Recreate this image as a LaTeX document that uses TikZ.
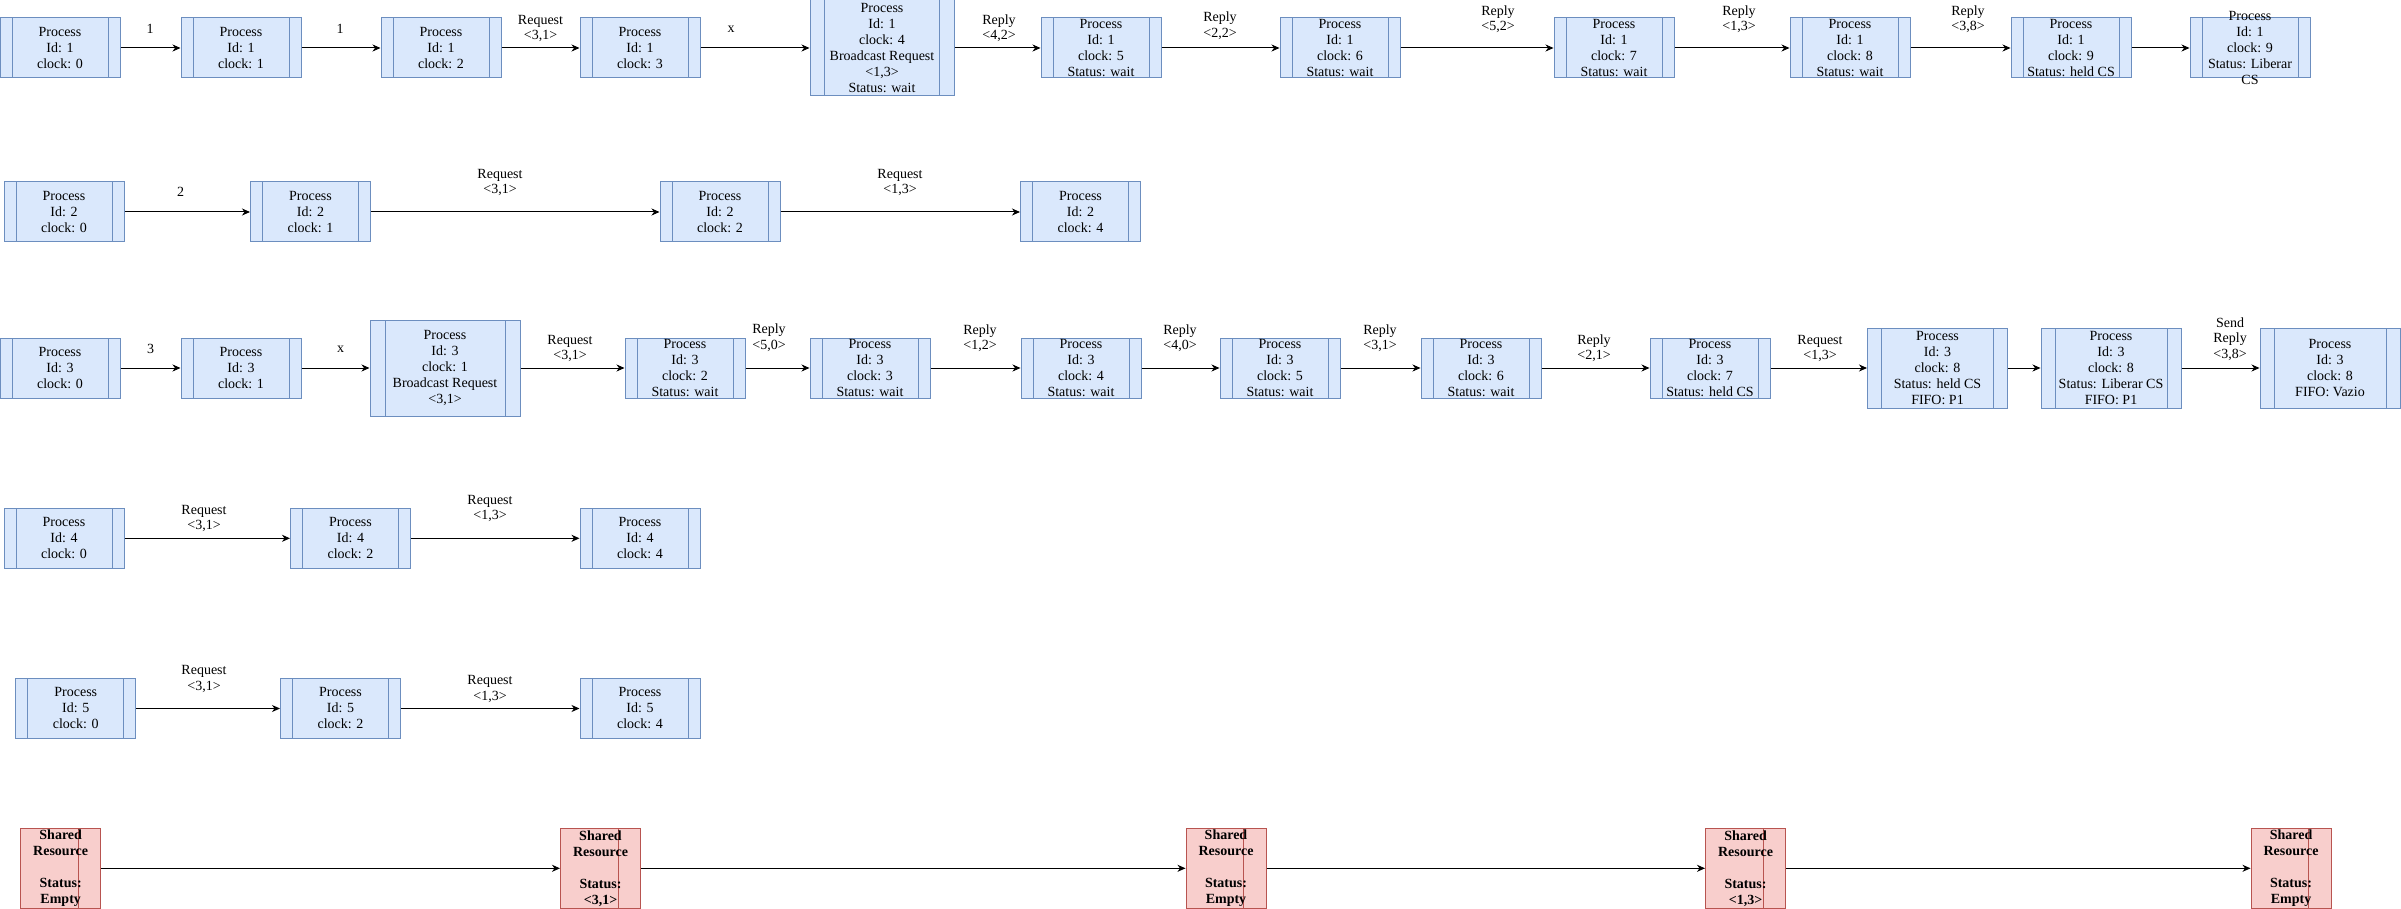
\documentclass[tikz,border=0pt]{standalone}
\usepackage{fontspec}
\setmainfont{Liberation Serif}
\usetikzlibrary{arrows.meta,calc}

\definecolor{procfill}{HTML}{DAE8FC}
\definecolor{procline}{HTML}{6C8EBF}
\definecolor{resfill}{HTML}{F8CECC}
\definecolor{resline}{HTML}{B85450}

\tikzset{
  % process box: rectangle with an inner bar at 10% from each side
  proc/.style={draw=procline, fill=procfill, line width=1pt, inner sep=0pt,
    minimum width=120pt, minimum height=60pt,
    path picture={
      \draw[procline, line width=1pt]
        ($(path picture bounding box.north west)!0.1!(path picture bounding box.north east)$) --
        ($(path picture bounding box.south west)!0.1!(path picture bounding box.south east)$)
        ($(path picture bounding box.north west)!0.9!(path picture bounding box.north east)$) --
        ($(path picture bounding box.south west)!0.9!(path picture bounding box.south east)$);
    }},
  % shared resource box with a single inner bar
  res/.style={draw=resline, fill=resfill, line width=1pt, inner sep=0pt,
    minimum width=80pt, minimum height=80pt,
    path picture={
      \draw[resline, line width=1pt]
        ($(path picture bounding box.north west)!0.72!(path picture bounding box.north east)$) --
        ($(path picture bounding box.south west)!0.72!(path picture bounding box.south east)$);
    }},
  boxtext/.style={align=center, inner sep=0pt, font=\fontsize{14}{16}\selectfont},
  restext/.style={align=center, inner sep=0pt, font=\bfseries\fontsize{14}{16}\selectfont},
  elabel/.style={align=center, inner sep=0pt, font=\fontsize{14}{15.5}\selectfont},
  flow/.style={line width=1pt, -{Stealth[length=8pt,width=7pt,inset=2.5pt]}},
}

\newcommand{\pbox}[6]{% name, x, y, width, height, text
  \node[proc, minimum width=#4, minimum height=#5,
        label={[boxtext]center:{#6}}] (#1) at (#2,#3) {};}
\newcommand{\rbox}[4]{% name, x, y, text
  \node[res, label={[restext]center:{#4}}] (#1) at (#2,#3) {};}

\begin{document}
\begin{tikzpicture}[x=1pt,y=-1pt]
\useasboundingbox (0,0) rectangle (2401,909);

% ---------- process 1 ----------
\pbox{p1a}{60}{48}{120pt}{60pt}{Process\\Id: 1\\clock: 0}
\pbox{p1b}{241}{48}{120pt}{60pt}{Process\\Id: 1\\clock: 1}
\pbox{p1c}{441}{48}{120pt}{60pt}{Process\\Id: 1\\clock: 2}
\pbox{p1d}{640}{48}{120pt}{60pt}{Process\\Id: 1\\clock: 3}
\pbox{p1e}{882}{48}{144pt}{96pt}{Process\\Id: 1\\clock: 4\\Broadcast Request\\<1,3>\\Status: wait}
\pbox{p1f}{1101}{48}{120pt}{60pt}{Process\\Id: 1\\clock: 5\\Status: wait}
\pbox{p1g}{1340}{48}{120pt}{60pt}{Process\\Id: 1\\clock: 6\\Status: wait}
\pbox{p1h}{1614}{48}{120pt}{60pt}{Process\\Id: 1\\clock: 7\\Status: wait}
\pbox{p1i}{1850}{48}{120pt}{60pt}{Process\\Id: 1\\clock: 8\\Status: wait}
\pbox{p1j}{2071}{48}{120pt}{60pt}{Process\\Id: 1\\clock: 9\\Status: held CS}
\pbox{p1k}{2250}{48}{120pt}{60pt}{Process\\Id: 1\\clock: 9\\Status: Liberar\\CS}

\draw[flow] (p1a.east) -- (p1b.west);
\draw[flow] (p1b.east) -- (p1c.west);
\draw[flow] (p1c.east) -- (p1d.west);
\draw[flow] (p1d.east) -- (p1e.west);
\draw[flow] (p1e.east) -- (p1f.west);
\draw[flow] (p1f.east) -- (p1g.west);
\draw[flow] (p1g.east) -- (p1h.west);
\draw[flow] (p1h.east) -- (p1i.west);
\draw[flow] (p1i.east) -- (p1j.west);
\draw[flow] (p1j.east) -- (p1k.west);

\node[elabel] (l1a) at (150,29) {1};
\node[elabel] (l1b) at (340,29) {1};
\node[elabel] (l1c) at (540.5,28.3) {Request\\<3,1>};
\node[elabel] (l1d) at (731,29) {x};
\node[elabel] (l1e) at (999,28.3) {Reply\\<4,2>};
\node[elabel] (l1f) at (1220,25.8) {Reply\\<2,2>};
\node[elabel] (l1g) at (1498,19.2) {Reply\\<5,2>};
\node[elabel] (l1h) at (1739,19.2) {Reply\\<1,3>};
\node[elabel] (l1i) at (1968,19.2) {Reply\\<3,8>};

% ---------- process 2 ----------
\pbox{p2a}{64}{212}{120pt}{60pt}{Process\\Id: 2\\clock: 0}
\pbox{p2b}{310.5}{212}{120pt}{60pt}{Process\\Id: 2\\clock: 1}
\pbox{p2c}{720}{212}{120pt}{60pt}{Process\\Id: 2\\clock: 2}
\pbox{p2d}{1080.5}{212}{120pt}{60pt}{Process\\Id: 2\\clock: 4}

\draw[flow] (p2a.east) -- (p2b.west);
\draw[flow] (p2b.east) -- (p2c.west);
\draw[flow] (p2c.east) -- (p2d.west);

\node[elabel] (l2a) at (180.6,192.3) {2};
\node[elabel] (l2b) at (500,182.5) {Request\\<3,1>};
\node[elabel] (l2c) at (900,182.5) {Request\\<1,3>};

% ---------- process 3 ----------
\pbox{p3a}{60}{368}{120pt}{60pt}{Process\\Id: 3\\clock: 0}
\pbox{p3b}{241}{368}{120pt}{60pt}{Process\\Id: 3\\clock: 1}
\pbox{p3c}{445}{368}{150pt}{96pt}{Process\\Id: 3\\clock: 1\\Broadcast Request\\<3,1>}
\pbox{p3d}{685}{368}{120pt}{60pt}{Process\\Id: 3\\clock: 2\\Status: wait}
\pbox{p3e}{870}{368}{120pt}{60pt}{Process\\Id: 3\\clock: 3\\Status: wait}
\pbox{p3f}{1081}{368}{120pt}{60pt}{Process\\Id: 3\\clock: 4\\Status: wait}
\pbox{p3g}{1280}{368}{120pt}{60pt}{Process\\Id: 3\\clock: 5\\Status: wait}
\pbox{p3h}{1481}{368}{120pt}{60pt}{Process\\Id: 3\\clock: 6\\Status: wait}
\pbox{p3i}{1710}{368}{120pt}{60pt}{Process\\Id: 3\\clock: 7\\Status: held CS}
\pbox{p3j}{1937.5}{368}{140pt}{80pt}{Process\\Id: 3\\clock: 8\\Status: held CS\\FIFO: P1}
\pbox{p3k}{2111}{368}{140pt}{80pt}{Process\\Id: 3\\clock: 8\\Status: Liberar CS\\FIFO: P1}
\pbox{p3l}{2330}{368}{140pt}{80pt}{Process\\Id: 3\\clock: 8\\FIFO: Vazio}

\draw[flow] (p3a.east) -- (p3b.west);
\draw[flow] (p3b.east) -- (p3c.west);
\draw[flow] (p3c.east) -- (p3d.west);
\draw[flow] (p3d.east) -- (p3e.west);
\draw[flow] (p3e.east) -- (p3f.west);
\draw[flow] (p3f.east) -- (p3g.west);
\draw[flow] (p3g.east) -- (p3h.west);
\draw[flow] (p3h.east) -- (p3i.west);
\draw[flow] (p3i.east) -- (p3j.west);
\draw[flow] (p3j.east) -- (p3k.west);
\draw[flow] (p3k.east) -- (p3l.west);

\node[elabel] (l3a) at (150.6,349) {3};
\node[elabel] (l3b) at (340.5,349) {x};
\node[elabel] (l3c) at (570,348.3) {Request\\<3,1>};
\node[elabel] (l3d) at (769,337.8) {Reply\\<5,0>};
\node[elabel] (l3e) at (980,338.2) {Reply\\<1,2>};
\node[elabel] (l3f) at (1180,338.2) {Reply\\<4,0>};
\node[elabel] (l3g) at (1380,338.2) {Reply\\<3,1>};
\node[elabel] (l3h) at (1594,348.3) {Reply\\<2,1>};
\node[elabel] (l3i) at (1820,348.3) {Request\\<1,3>};
\node[elabel] (l3j) at (2230,339) {Send\\Reply\\<3,8>};

% ---------- process 4 ----------
\pbox{p4a}{64}{538.3}{120pt}{60pt}{Process\\Id: 4\\clock: 0}
\pbox{p4b}{350.5}{538.3}{120pt}{60pt}{Process\\Id: 4\\clock: 2}
\pbox{p4c}{640}{538.3}{120pt}{60pt}{Process\\Id: 4\\clock: 4}

\draw[flow] (p4a.east) -- (p4b.west);
\draw[flow] (p4b.east) -- (p4c.west);

\node[elabel] (l4a) at (204,518.3) {Request\\<3,1>};
\node[elabel] (l4b) at (490,508.3) {Request\\<1,3>};

% ---------- process 5 ----------
\pbox{p5a}{75.8}{708.5}{120pt}{60pt}{Process\\Id: 5\\clock: 0}
\pbox{p5b}{340.5}{708.5}{120pt}{60pt}{Process\\Id: 5\\clock: 2}
\pbox{p5c}{640}{708.5}{120pt}{60pt}{Process\\Id: 5\\clock: 4}

\draw[flow] (p5a.east) -- (p5b.west);
\draw[flow] (p5b.east) -- (p5c.west);

\node[elabel] (l5a) at (204,679.2) {Request\\<3,1>};
\node[elabel] (l5b) at (490,689.2) {Request\\<1,3>};

% ---------- shared resource ----------
\rbox{r1}{60.7}{868.3}{Shared\\Resource\\[16pt]Status:\\Empty}
\rbox{r2}{600.5}{868.3}{Shared\\Resource\\[16pt]Status:\\<3,1>}
\rbox{r3}{1226}{868.3}{Shared\\Resource\\[16pt]Status:\\Empty}
\rbox{r4}{1745.5}{868.3}{Shared\\Resource\\[16pt]Status:\\<1,3>}
\rbox{r5}{2291}{868.3}{Shared\\Resource\\[16pt]Status:\\Empty}

\draw[flow] (r1.east) -- (r2.west);
\draw[flow] (r2.east) -- (r3.west);
\draw[flow] (r3.east) -- (r4.west);
\draw[flow] (r4.east) -- (r5.west);

\end{tikzpicture}
\end{document}
